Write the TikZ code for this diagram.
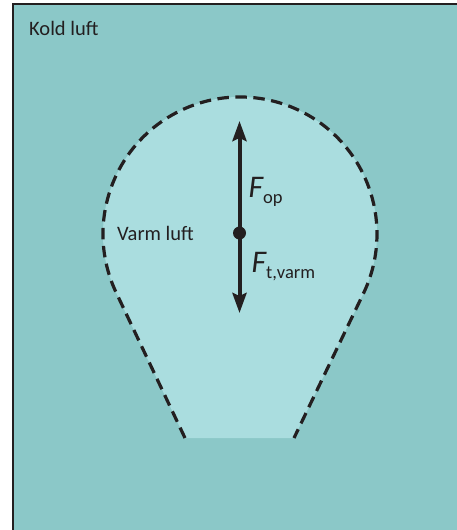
\documentclass[tikz,border=0pt]{standalone}
\usepackage{fontspec}
\setmainfont{Carlito}
\usetikzlibrary{arrows.meta,calc}
\definecolor{coldair}{HTML}{8BC8C8}
\definecolor{warmair}{HTML}{AADDDF}
\definecolor{ink}{HTML}{231F20}
\tikzset{
  lbl/.style={text=ink,font=\fontsize{20.5}{23}\selectfont,inner sep=0pt,anchor=base west},
  force/.style={draw=ink,line width=4pt,-{Stealth[length=20pt,width=14pt,inset=3pt]}},
  bound/.style={draw=ink,line width=3.2pt,dash pattern=on 11.5pt off 6.5pt},
}
\newcommand{\forcelabel}[2]{{\fontsize{31.5}{32}\selectfont\itshape F}\raisebox{-6pt}{\fontsize{18.5}{21}\selectfont #2}}
\begin{document}
\begin{tikzpicture}[x=1pt,y=1pt]
\useasboundingbox (0,0) rectangle (457,-530);
\clip (0,0) rectangle (457,-530);
\fill[coldair] (12.5,-3.5) rectangle (480,-560);
\draw[ink,line width=2pt] (12.5,-560) -- (12.5,-3.5) -- (480,-3.5);
\coordinate (c) at (240,-234);
\coordinate (bl) at (185,-438);
\coordinate (br) at (294,-438);
\coordinate (tl) at ($(c)+(205.3:137)$);
\coordinate (tr) at ($(c)+(334.3:137)$);
\fill[warmair] (bl) -- (tl) arc[start angle=205.3,end angle=-25.7,radius=137] -- (br) -- cycle;
\draw[bound] (bl) -- (tl) arc[start angle=205.3,end angle=-25.7,radius=137] -- (br);
\node[lbl] (kold) at (29,-35) {Kold luft};
\node[lbl] (varm) at (117,-240) {Varm luft};
\node[circle,fill=ink,minimum size=13pt,inner sep=0pt] (dot) at (239.5,-233) {};
\coordinate (up) at (239.5,-121);
\coordinate (down) at (239.5,-313);
\draw[force] (dot.center) -- (up);
\draw[force] (dot.center) -- (down);
\node[lbl,text=ink] (fop) at (248.5,-197) {\forcelabel{F}{op}};
\node[lbl,text=ink] (ft) at (251.5,-272) {\forcelabel{F}{t,varm}};
\end{tikzpicture}
\end{document}
